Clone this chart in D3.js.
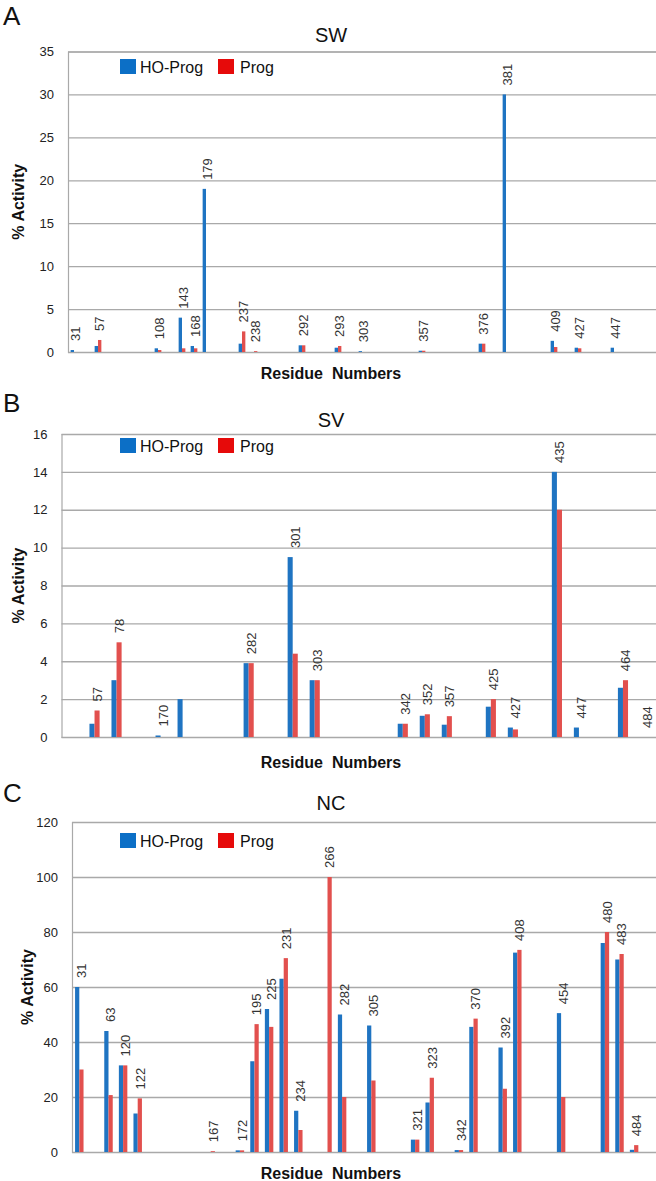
<!DOCTYPE html>
<html><head><meta charset="utf-8">
<script src="https://cdn.jsdelivr.net/npm/d3@7/dist/d3.min.js"></script>
<style>body{margin:0;background:#fff} text{font-family:"Liberation Sans",Arial,sans-serif}</style>
</head><body><svg id="c" width="656" height="1181"></svg>
<script>
const seriesNames = ["HO-Prog", "Prog"];

// Panel A: SW
const swResidues = ["31","","57","","","","","108","","143","168","179","","","237","238","","","","292","","","293","","303","","","","","357","","","","","376","","381","","","","409","","427","","","447","","",""];
const swHO   = [0.23,null,0.7,null,null,null,null,0.43,null,4.0,0.7,19,null,null,0.97,0,null,null,null,0.78,null,null,0.5,null,0.1,null,null,null,null,0.15,null,null,null,null,0.97,null,30,null,null,null,1.3,null,0.5,null,null,0.5,null,null,null];
const swProg = [0,null,1.4,null,null,null,null,0.23,null,0.43,0.43,0,null,null,2.4,0.1,null,null,null,0.78,null,null,0.7,null,0,null,null,null,null,0.15,null,null,null,null,0.97,null,0,null,null,null,0.58,null,0.43,null,null,0,null,null,null];
const swTicks = [0,5,10,15,20,25,30,35];

// Panel B: SV
const svResidues = ["","57","78","","170","","","","282","","301","303","","","","342","352","357","","425","427","","435","447","","464","484"];
const svHO   = [null,0.7,3.0,null,0.08,2.0,null,null,3.9,null,9.5,3.0,null,null,null,0.7,1.12,0.65,null,1.6,0.5,null,14,0.5,null,2.6,0];
const svProg = [null,1.4,5.0,null,0,0,null,null,3.9,null,4.4,3.0,null,null,null,0.7,1.2,1.1,null,2.0,0.4,null,12,0,null,3.0,0];
const svTicks = [0,2,4,6,8,10,12,14,16];

// Panel C: NC
const ncResidues = ["31","","63","120","122","","","","","167","","172","195","225","231","234","","266","282","","305","","","321","323","","342","370","","392","408","","","454","","","480","483","484",""];
const ncHO   = [60,null,44,31.5,14,null,null,null,null,0,null,0.6,33,52,63,15,null,0,50,null,46,null,null,4.5,18,null,0.7,45.5,null,38,72.5,null,null,50.5,null,null,76,70,0.8,null];
const ncProg = [30,null,20.7,31.5,19.5,null,null,null,null,0.3,null,0.6,46.5,45.5,70.5,8,null,100,20,null,26,null,null,4.5,27,null,0.7,48.5,null,23,73.5,null,null,20,null,null,80,72,2.5,null];
const ncTicks = [0,20,40,60,80,100,120];

const panels = [
  {letter:"A", title:"SW", res:swResidues, a:swHO, b:swProg, ticks:swTicks,
   top:51.5, bottom:352, left:68, barFrac:0.28, letterY:25, titleY:42, xTitleY:379, yTitleX:24, legendY:59},
  {letter:"B", title:"SV", res:svResidues, a:svHO, b:svProg, ticks:svTicks,
   top:434, bottom:737, left:61.5, barFrac:0.23, letterY:412, titleY:427, xTitleY:768, yTitleX:24, legendY:438},
  {letter:"C", title:"NC", res:ncResidues, a:ncHO, b:ncProg, ticks:ncTicks,
   top:822, bottom:1152, left:72, barFrac:0.29, letterY:802, titleY:810, xTitleY:1179, yTitleX:33, legendY:833}
];

const W = 656;
const blue = "#1f74c2", red = "#e2504e";
const legBlue = "#0c6fc6", legRed = "#e60a0a";
const gridC = "#a9a9a9";
const svg = d3.select("#c");

panels.forEach(p => {
  const g = svg.append("g");
  const n = p.res.length;
  const x = d3.scaleBand().domain(d3.range(n)).range([p.left, W]).paddingInner(0).paddingOuter(0);
  const y = d3.scaleLinear().domain([0, d3.max(p.ticks)]).range([p.bottom, p.top]);
  const bw = x.bandwidth() * p.barFrac;

  // panel letter & title
  g.append("text").attr("x", 3).attr("y", p.letterY).attr("font-size", 26).attr("fill", "#111").text(p.letter);
  g.append("text").attr("x", 331).attr("y", p.titleY).attr("text-anchor", "middle").attr("font-size", 20).attr("fill", "#111").text(p.title);

  // gridlines via axis
  const ax = d3.axisLeft(y).tickValues(p.ticks).tickSize(-(W - p.left)).tickPadding(14).tickFormat(d3.format("d"));
  const axg = g.append("g").attr("transform", `translate(${p.left},0)`).call(ax);
  axg.select(".domain").attr("stroke", gridC).attr("stroke-width", 1.2);
  axg.selectAll(".tick line").attr("stroke", gridC).attr("stroke-width", 1.3);
  axg.selectAll(".tick text").attr("font-size", 13).attr("fill", "#222").attr("font-family", '"Liberation Sans",Arial,sans-serif');

  // bars
  const idx = d3.range(n);
  g.selectAll(".ba").data(idx.filter(i => p.a[i] != null && p.a[i] > 0)).join("rect")
    .attr("x", i => x(i) + x.bandwidth()/2 - bw).attr("width", bw)
    .attr("y", i => y(p.a[i])).attr("height", i => y(0) - y(p.a[i])).attr("fill", blue);
  g.selectAll(".bb").data(idx.filter(i => p.b[i] != null && p.b[i] > 0)).join("rect")
    .attr("x", i => x(i) + x.bandwidth()/2).attr("width", bw)
    .attr("y", i => y(p.b[i])).attr("height", i => y(0) - y(p.b[i])).attr("fill", red);

  // rotated residue labels
  g.selectAll(".lab").data(idx.filter(i => p.res[i] !== "")).join("text")
    .attr("transform", i => {
      const m = Math.max(p.a[i] || 0, p.b[i] || 0);
      return `translate(${x(i) + x.bandwidth()/2 + bw/2},${y(m) - 9}) rotate(-90)`;
    })
    .attr("dy", "0.36em").attr("font-size", 13).attr("fill", "#333").text(i => p.res[i]);

  // axis titles
  g.append("text").attr("x", 331).attr("y", p.xTitleY).attr("text-anchor", "middle")
    .attr("font-size", 16).attr("font-weight", "bold").attr("fill", "#111")
    .style("white-space", "pre").text("Residue  Numbers");
  g.append("text").attr("transform", `translate(${p.yTitleX},${(p.top + p.bottom)/2}) rotate(-90)`)
    .attr("text-anchor", "middle").attr("font-size", 16).attr("font-weight", "bold").attr("fill", "#111")
    .style("white-space", "pre").text("% Activity");

  // legend
  const lg = g.append("g").attr("transform", `translate(120,${p.legendY})`);
  lg.append("rect").attr("x", 0).attr("y", 0).attr("width", 16).attr("height", 15).attr("fill", legBlue);
  lg.append("text").attr("x", 20).attr("y", 14).attr("font-size", 16).attr("fill", "#111").text(seriesNames[0]);
  lg.append("rect").attr("x", 98).attr("y", 0).attr("width", 16).attr("height", 15).attr("fill", legRed);
  lg.append("text").attr("x", 120).attr("y", 14).attr("font-size", 16).attr("fill", "#111").text(seriesNames[1]);
});
</script></body></html>
